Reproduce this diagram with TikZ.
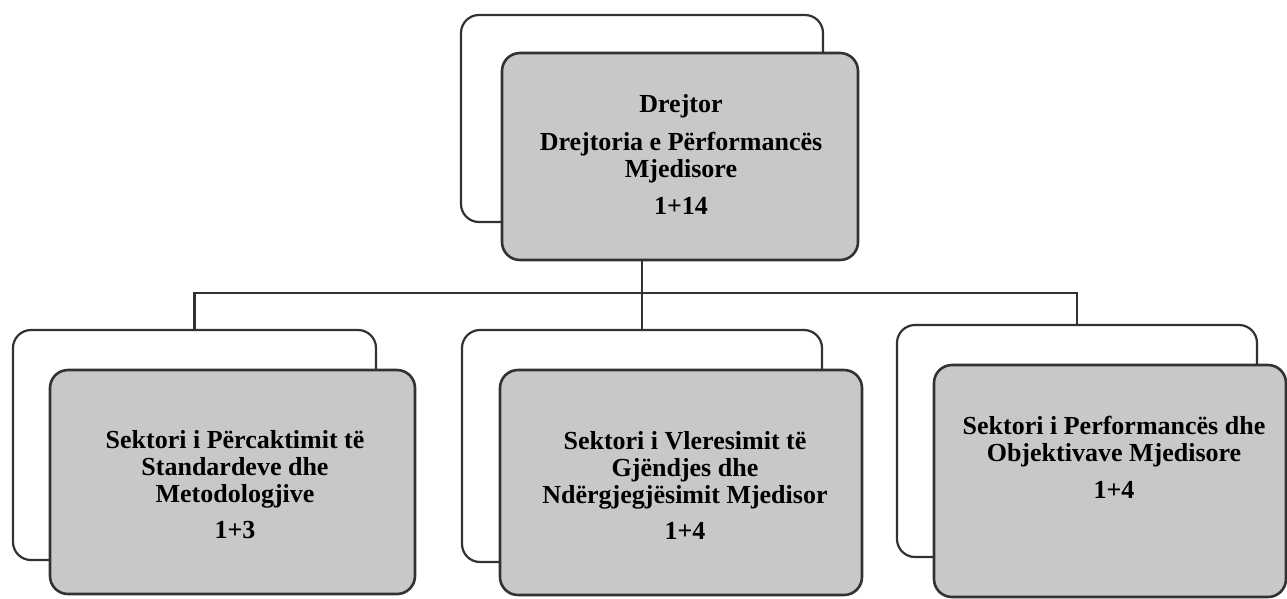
\documentclass[tikz,border=0pt]{standalone}
\usepackage{fontspec}
\setmainfont{Liberation Serif}
\usepackage{tikz}
\definecolor{boxgray}{RGB}{200,200,200}
\definecolor{edgegray}{RGB}{50,50,50}
\newcommand{\boxfont}{\bfseries\fontsize{26}{27}\selectfont\lineskiplimit -30pt\relax}
\tikzstyle{backbox} = [rectangle, rounded corners=18pt, draw=edgegray, line width=2.2pt, fill=white, inner sep=0pt]
\tikzstyle{frontbox} = [rectangle, rounded corners=18pt, draw=edgegray, line width=2.6pt, fill=boxgray, inner sep=0pt]
\tikzstyle{boxtext} = [align=center, inner sep=0pt, font=\boxfont]
\tikzstyle{link} = [line width=2.2pt, draw=edgegray]

\begin{document}
\begin{tikzpicture}[x=1pt, y=-1pt]
    \useasboundingbox (0,0) rectangle (1287,598);

    % top: director
    \node (topback) [backbox, minimum width=362pt, minimum height=207pt] at (642,118.5) {};
    \node (topfront) [frontbox, minimum width=356pt, minimum height=207pt] at (680,156.5) {};
    \node (toptext) [boxtext] at (681,154.5)
        {Drejtor\\[11pt] Drejtoria e Përformancës\\ Mjedisore\\[10pt] 1+14};

    % sectors
    \node (leftback) [backbox, minimum width=363pt, minimum height=230pt] at (194.5,445) {};
    \node (leftfront) [frontbox, minimum width=365pt, minimum height=224pt] at (232.5,482) {};
    \node (lefttext) [boxtext] at (235,485)
        {Sektori i Përcaktimit të\\ Standardeve dhe\\ Metodologjive\\[9pt] 1+3};

    \node (midback) [backbox, minimum width=360pt, minimum height=232pt] at (642,446) {};
    \node (midfront) [frontbox, minimum width=362pt, minimum height=225pt] at (681,482.5) {};
    \node (midtext) [boxtext] at (685,485)
        {Sektori i Vleresimit të\\ Gjëndjes dhe\\ Ndërgjegjësimit Mjedisor\\[9pt] 1+4};

    \node (rightback) [backbox, minimum width=360pt, minimum height=232pt] at (1077,441) {};
    \node (rightfront) [frontbox, minimum width=352pt, minimum height=232pt] at (1110,481) {};
    \node (righttext) [boxtext] at (1114,457)
        {Sektori i Performancës dhe\\ Objektivave Mjedisore\\[10pt] 1+4};

    % connectors
    \coordinate (bus) at (642,293);
    \draw[link] (topfront.south -| topback) -- (bus);
    \draw[link] (leftback.north) |- (bus) -| (rightback.north);
    \draw[link] (bus) -- (midback.north);

\end{tikzpicture}
\end{document}
